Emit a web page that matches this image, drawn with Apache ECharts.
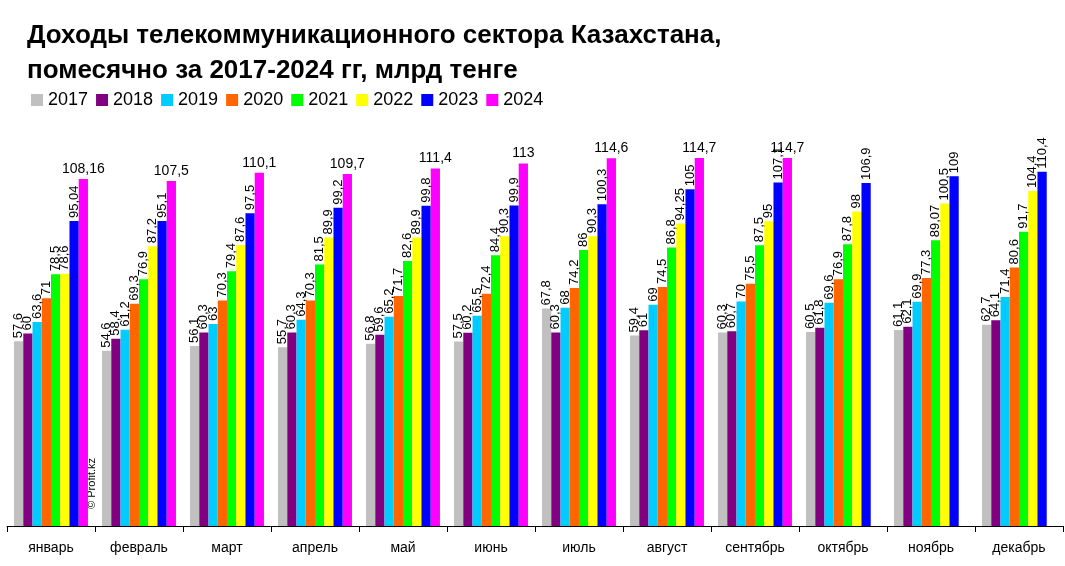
<!DOCTYPE html>
<html><head><meta charset="utf-8">
<script src="https://cdn.jsdelivr.net/npm/echarts@6/dist/echarts.min.js"></script>
<style>html,body{margin:0;padding:0;background:#fff}#c{width:1065px;height:566px}</style>
</head><body><div id="c"></div>
<script>
const months = ['январь','февраль','март','апрель','май','июнь','июль','август','сентябрь','октябрь','ноябрь','декабрь'];
const years = ['2017','2018','2019','2020','2021','2022','2023','2024'];
const colors = ['#c0c0c0','#800080','#00ccff','#ff6600','#00ff00','#ffff00','#0000ff','#ff00ff'];
const y2017 = [57.6,54.6,56.1,55.7,56.8,57.5,67.8,59.4,60.3,60.5,61.1,62.7];
const y2018 = [60,58.4,60.3,60.3,59.6,60.2,60.3,61,60.7,61.8,62.1,64.1];
const y2019 = [63.6,61.2,63,64.3,65.2,65.5,68,69,70,69.6,69.9,71.4];
const y2020 = [71,69.3,70.3,70.3,71.7,72.4,74.2,74.5,75.5,76.9,77.3,80.6];
const y2021 = [78.5,76.9,79.4,81.5,82.6,84.4,86,86.8,87.5,87.8,89.07,91.7];
const y2022 = [78.6,87.2,87.6,89.9,89.9,90.3,90.3,94.25,95,98,100.5,104.4];
const y2023 = [95.04,95.1,97.5,99.2,99.8,99.9,100.3,105,107.1,106.9,109,110.4];
const y2024 = [108.16,107.5,110.1,109.7,111.4,113,114.6,114.7,114.7,null,null,null];
const all = [y2017,y2018,y2019,y2020,y2021,y2022,y2023,y2024];
const fmt = p => String(p.value).replace('.', ',');
const series = all.map((d,i)=>({
  name: years[i], type:'bar', data:d, barGap:'0%', barCategoryGap:'16%',
  itemStyle:{color:colors[i]},
  label: i===7 ? {show:true, position:'top', distance:3, color:'#000', fontSize:14, fontFamily:'Arial', formatter:fmt}
              : {show:true, position:'top', rotate:90, align:'left', verticalAlign:'middle', distance:3, color:'#000', fontSize:13, fontFamily:'Arial', formatter:fmt}
}));
const chart = echarts.init(document.getElementById('c'), null, {renderer:'canvas'});
chart.setOption({
  backgroundColor:'#fff',
  animation:false,
  title:{text:'Доходы телекоммуникационного сектора Казахстана,\nпомесячно за 2017-2024 гг, млрд тенге', left:27, top:18, padding:0,
    textStyle:{fontFamily:'Arial', fontSize:26, fontWeight:'bold', color:'#000', lineHeight:35}},
  legend:{data:years, left:31, top:91, padding:0, icon:'rect', itemWidth:12, itemHeight:12, itemGap:8,
    textStyle:{fontFamily:'Arial', fontSize:18, color:'#000'}},
  grid:{left:7, right:2, top:141, bottom:40},
  xAxis:{type:'category', data:months,
    axisLine:{lineStyle:{color:'#000', width:1}},
    axisTick:{show:true, length:6, lineStyle:{color:'#000'}},
    axisLabel:{color:'#000', fontSize:14, fontFamily:'Arial', margin:15}},
  yAxis:{type:'value', min:0, max:120, show:false, splitLine:{show:false}},
  graphic:[{type:'text', left:86, top:458, rotation:Math.PI/2,
    style:{text:'© Profit.kz', font:'11px Arial', fill:'#000'}}],
  series: series
});
</script></body></html>
